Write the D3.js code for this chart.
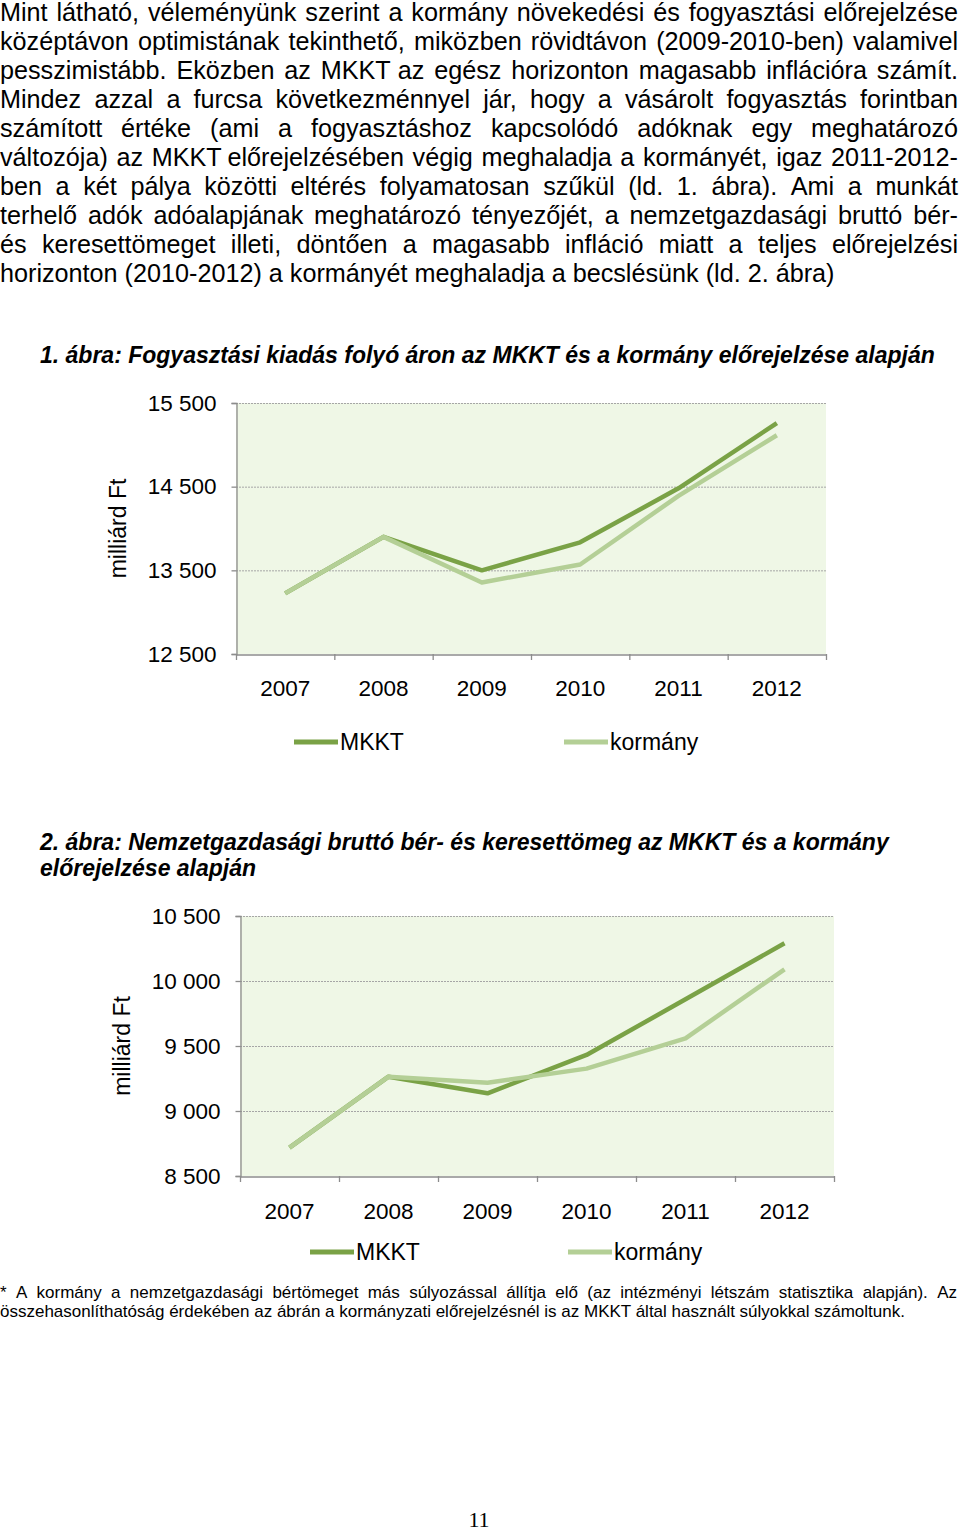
<!DOCTYPE html>
<html><head><meta charset="utf-8">
<script src="https://cdn.jsdelivr.net/npm/d3@7"></script>
<style>
html,body{margin:0;padding:0;background:#fff;}
svg{display:block;}
</style></head>
<body>
<svg id="page" width="960" height="1530"></svg>
<script>
// ---------- DATA ----------
const years = ["2007","2008","2009","2010","2011","2012"];
const seriesNames = ["MKKT","kormány"];
// Chart 1: Fogyasztási kiadás folyó áron (milliárd Ft)
const chart1MKKT    = [13225, 13900, 13500, 13835, 14480, 15260];
const chart1Kormany = [13225, 13900, 13355, 13570, 14390, 15115];
const chart1Ticks   = [12500, 13500, 14500, 15500];
// Chart 2: Nemzetgazdasági bruttó bér- és keresettömeg (milliárd Ft)
const chart2MKKT    = [8718, 9264, 9136, 9431, 9859, 10290];
const chart2Kormany = [8718, 9264, 9218, 9326, 9559, 10090];
const chart2Ticks   = [8500, 9000, 9500, 10000, 10500];

const paragraph = [
  "Mint látható, véleményünk szerint a kormány növekedési és fogyasztási előrejelzése",
  "középtávon optimistának tekinthető, miközben rövidtávon (2009-2010-ben) valamivel",
  "pesszimistább. Eközben az MKKT az egész horizonton magasabb inflációra számít.",
  "Mindez azzal a furcsa következménnyel jár, hogy a vásárolt fogyasztás forintban",
  "számított értéke (ami a fogyasztáshoz kapcsolódó adóknak egy meghatározó",
  "változója) az MKKT előrejelzésében végig meghaladja a kormányét, igaz 2011-2012-",
  "ben a két pálya közötti eltérés folyamatosan szűkül (ld. 1. ábra). Ami a munkát",
  "terhelő adók adóalapjának meghatározó tényezőjét, a nemzetgazdasági bruttó bér-",
  "és keresettömeget illeti, döntően a magasabb infláció miatt a teljes előrejelzési",
  "horizonton (2010-2012) a kormányét meghaladja a becslésünk (ld. 2. ábra)"
];
const title1 = ["1. ábra: Fogyasztási kiadás folyó áron az MKKT és a kormány előrejelzése alapján"];
const title2 = ["2. ábra: Nemzetgazdasági bruttó bér- és keresettömeg az MKKT és a kormány",
                "előrejelzése alapján"];
const footnote = [
  "* A kormány a nemzetgazdasági bértömeget más súlyozással állítja elő (az intézményi létszám statisztika alapján). Az",
  "összehasonlíthatóság érdekében az ábrán a kormányzati előrejelzésnél is az MKKT által használt súlyokkal számoltunk."
];
const yAxisTitle = "milliárd Ft";
const pageNumber = "11";

// ---------- STYLE ----------
const colMKKT = "#7aa246";
const colKorm = "#b4cf96";
const plotBg = "#eff7e6";
const sans = "'Liberation Sans',Arial,sans-serif";

const svg = d3.select("#page");

// justified text lines
function textBlock(lines, opts) {
  const g = svg.append("g");
  lines.forEach((line, i) => {
    const y = opts.y0 + i * opts.lh;
    const justify = opts.justify && (i < lines.length - 1 || opts.justifyLast);
    const t = g.append("text").attr("y", y)
      .attr("font-family", opts.font).attr("font-size", opts.size)
      .attr("font-weight", opts.weight || "normal")
      .attr("font-style", opts.style || "normal")
      .attr("fill", "#000");
    if (!justify) {
      t.attr("x", opts.x0).text(line);
      return;
    }
    const words = line.split(" ");
    const spans = words.map(w => t.append("tspan").text(w));
    const widths = spans.map(s => s.node().getComputedTextLength());
    const total = d3.sum(widths);
    const gap = (opts.x1 - opts.x0 - total) / (words.length - 1);
    let x = opts.x0;
    spans.forEach((s, k) => { s.attr("x", x); x += widths[k] + gap; });
  });
}

textBlock(paragraph, {x0: 0, x1: 958, y0: 21, lh: 29, font: sans, size: 25.2, justify: true});
textBlock(title1, {x0: 40, y0: 363, lh: 26, font: sans, size: 23, weight: "bold", style: "italic"});
textBlock(title2, {x0: 40, y0: 850, lh: 26, font: sans, size: 23, weight: "bold", style: "italic"});
textBlock(footnote, {x0: 0, x1: 957, y0: 1298, lh: 19, font: sans, size: 17, justify: true});

svg.append("text").attr("x", 479).attr("y", 1527).attr("text-anchor", "middle")
  .attr("font-family", "'Liberation Serif','Times New Roman',serif").attr("font-size", 22)
  .text(pageNumber);

// ---------- CHARTS ----------
function drawChart(cfg) {
  const g = svg.append("g");
  const x = d3.scaleBand().domain(years).range([cfg.left, cfg.right]);
  const y = d3.scaleLinear().domain([cfg.ticks[0], cfg.ticks[cfg.ticks.length-1]]).range([cfg.bottom, cfg.top]);

  g.append("rect").attr("x", cfg.left).attr("y", cfg.top)
    .attr("width", cfg.right - cfg.left).attr("height", cfg.bottom - cfg.top).attr("fill", plotBg);

  // gridlines
  g.selectAll(".grid").data(cfg.ticks.slice(1)).join("line")
    .attr("x1", cfg.left).attr("x2", cfg.right)
    .attr("y1", d => y(d) + 0.5).attr("y2", d => y(d) + 0.5)
    .attr("stroke", "#a6a6a6").attr("stroke-width", 1).attr("stroke-dasharray", "2,1");

  // y axis
  const ya = g.append("g").attr("transform", `translate(${cfg.left + 0.5},0)`)
    .call(d3.axisLeft(y).tickValues(cfg.ticks).tickSize(5).tickPadding(15)
      .tickFormat(d => d3.format(",")(d).replace(",", " ")));
  ya.select(".domain").attr("stroke", "#8c8c8c").attr("stroke-width", 1.3);
  ya.selectAll(".tick line").attr("stroke", "#8c8c8c").attr("stroke-width", 1.3);
  ya.selectAll(".tick text").attr("font-family", sans).attr("font-size", 22.5).attr("fill", "#000");

  // x axis
  const xa = g.append("g").attr("transform", `translate(0,${cfg.bottom + 0.5})`)
    .call(d3.axisBottom(x).tickSize(0).tickPadding(cfg.xPad));
  xa.select(".domain").attr("stroke", "#8c8c8c").attr("stroke-width", 1.3);
  xa.selectAll(".tick text").attr("font-family", sans).attr("font-size", 22.5).attr("fill", "#000");
  const bounds = years.map(d => x(d)).concat([x(years[years.length-1]) + x.bandwidth()]);
  g.selectAll(".xt").data(bounds).join("line")
    .attr("x1", d => d + 0.5).attr("x2", d => d + 0.5)
    .attr("y1", cfg.bottom).attr("y2", cfg.bottom + 6)
    .attr("stroke", "#8c8c8c").attr("stroke-width", 1.3);

  // axis title
  g.append("text").attr("transform", `translate(${cfg.yTitleX},${(cfg.top + cfg.bottom)/2}) rotate(-90)`)
    .attr("text-anchor", "middle").attr("font-family", sans).attr("font-size", 23).text(yAxisTitle);

  // lines
  const line = d3.line().x((d, i) => x(years[i]) + x.bandwidth()/2).y(d => y(d));
  [[cfg.mkkt, colMKKT], [cfg.korm, colKorm]].forEach(([vals, c]) => {
    g.append("path").attr("d", line(vals)).attr("fill", "none")
      .attr("stroke", c).attr("stroke-width", 4.5).attr("stroke-linejoin", "round");
  });

  // legend
  const leg = [[seriesNames[0], colMKKT, cfg.leg[0]], [seriesNames[1], colKorm, cfg.leg[1]]];
  leg.forEach(([name, c, lx]) => {
    g.append("line").attr("x1", lx).attr("x2", lx + 44).attr("y1", cfg.legY).attr("y2", cfg.legY)
      .attr("stroke", c).attr("stroke-width", 5);
    g.append("text").attr("x", lx + 46).attr("y", cfg.legY + 8)
      .attr("font-family", sans).attr("font-size", 23).text(name);
  });
}

drawChart({left: 236, right: 826, top: 403, bottom: 654, ticks: chart1Ticks,
  mkkt: chart1MKKT, korm: chart1Kormany, yTitleX: 126, xPad: 26, legY: 742, leg: [294, 564]});
drawChart({left: 240, right: 834, top: 916, bottom: 1176, ticks: chart2Ticks,
  mkkt: chart2MKKT, korm: chart2Kormany, yTitleX: 130, xPad: 27, legY: 1252, leg: [310, 568]});
</script>
</body></html>
